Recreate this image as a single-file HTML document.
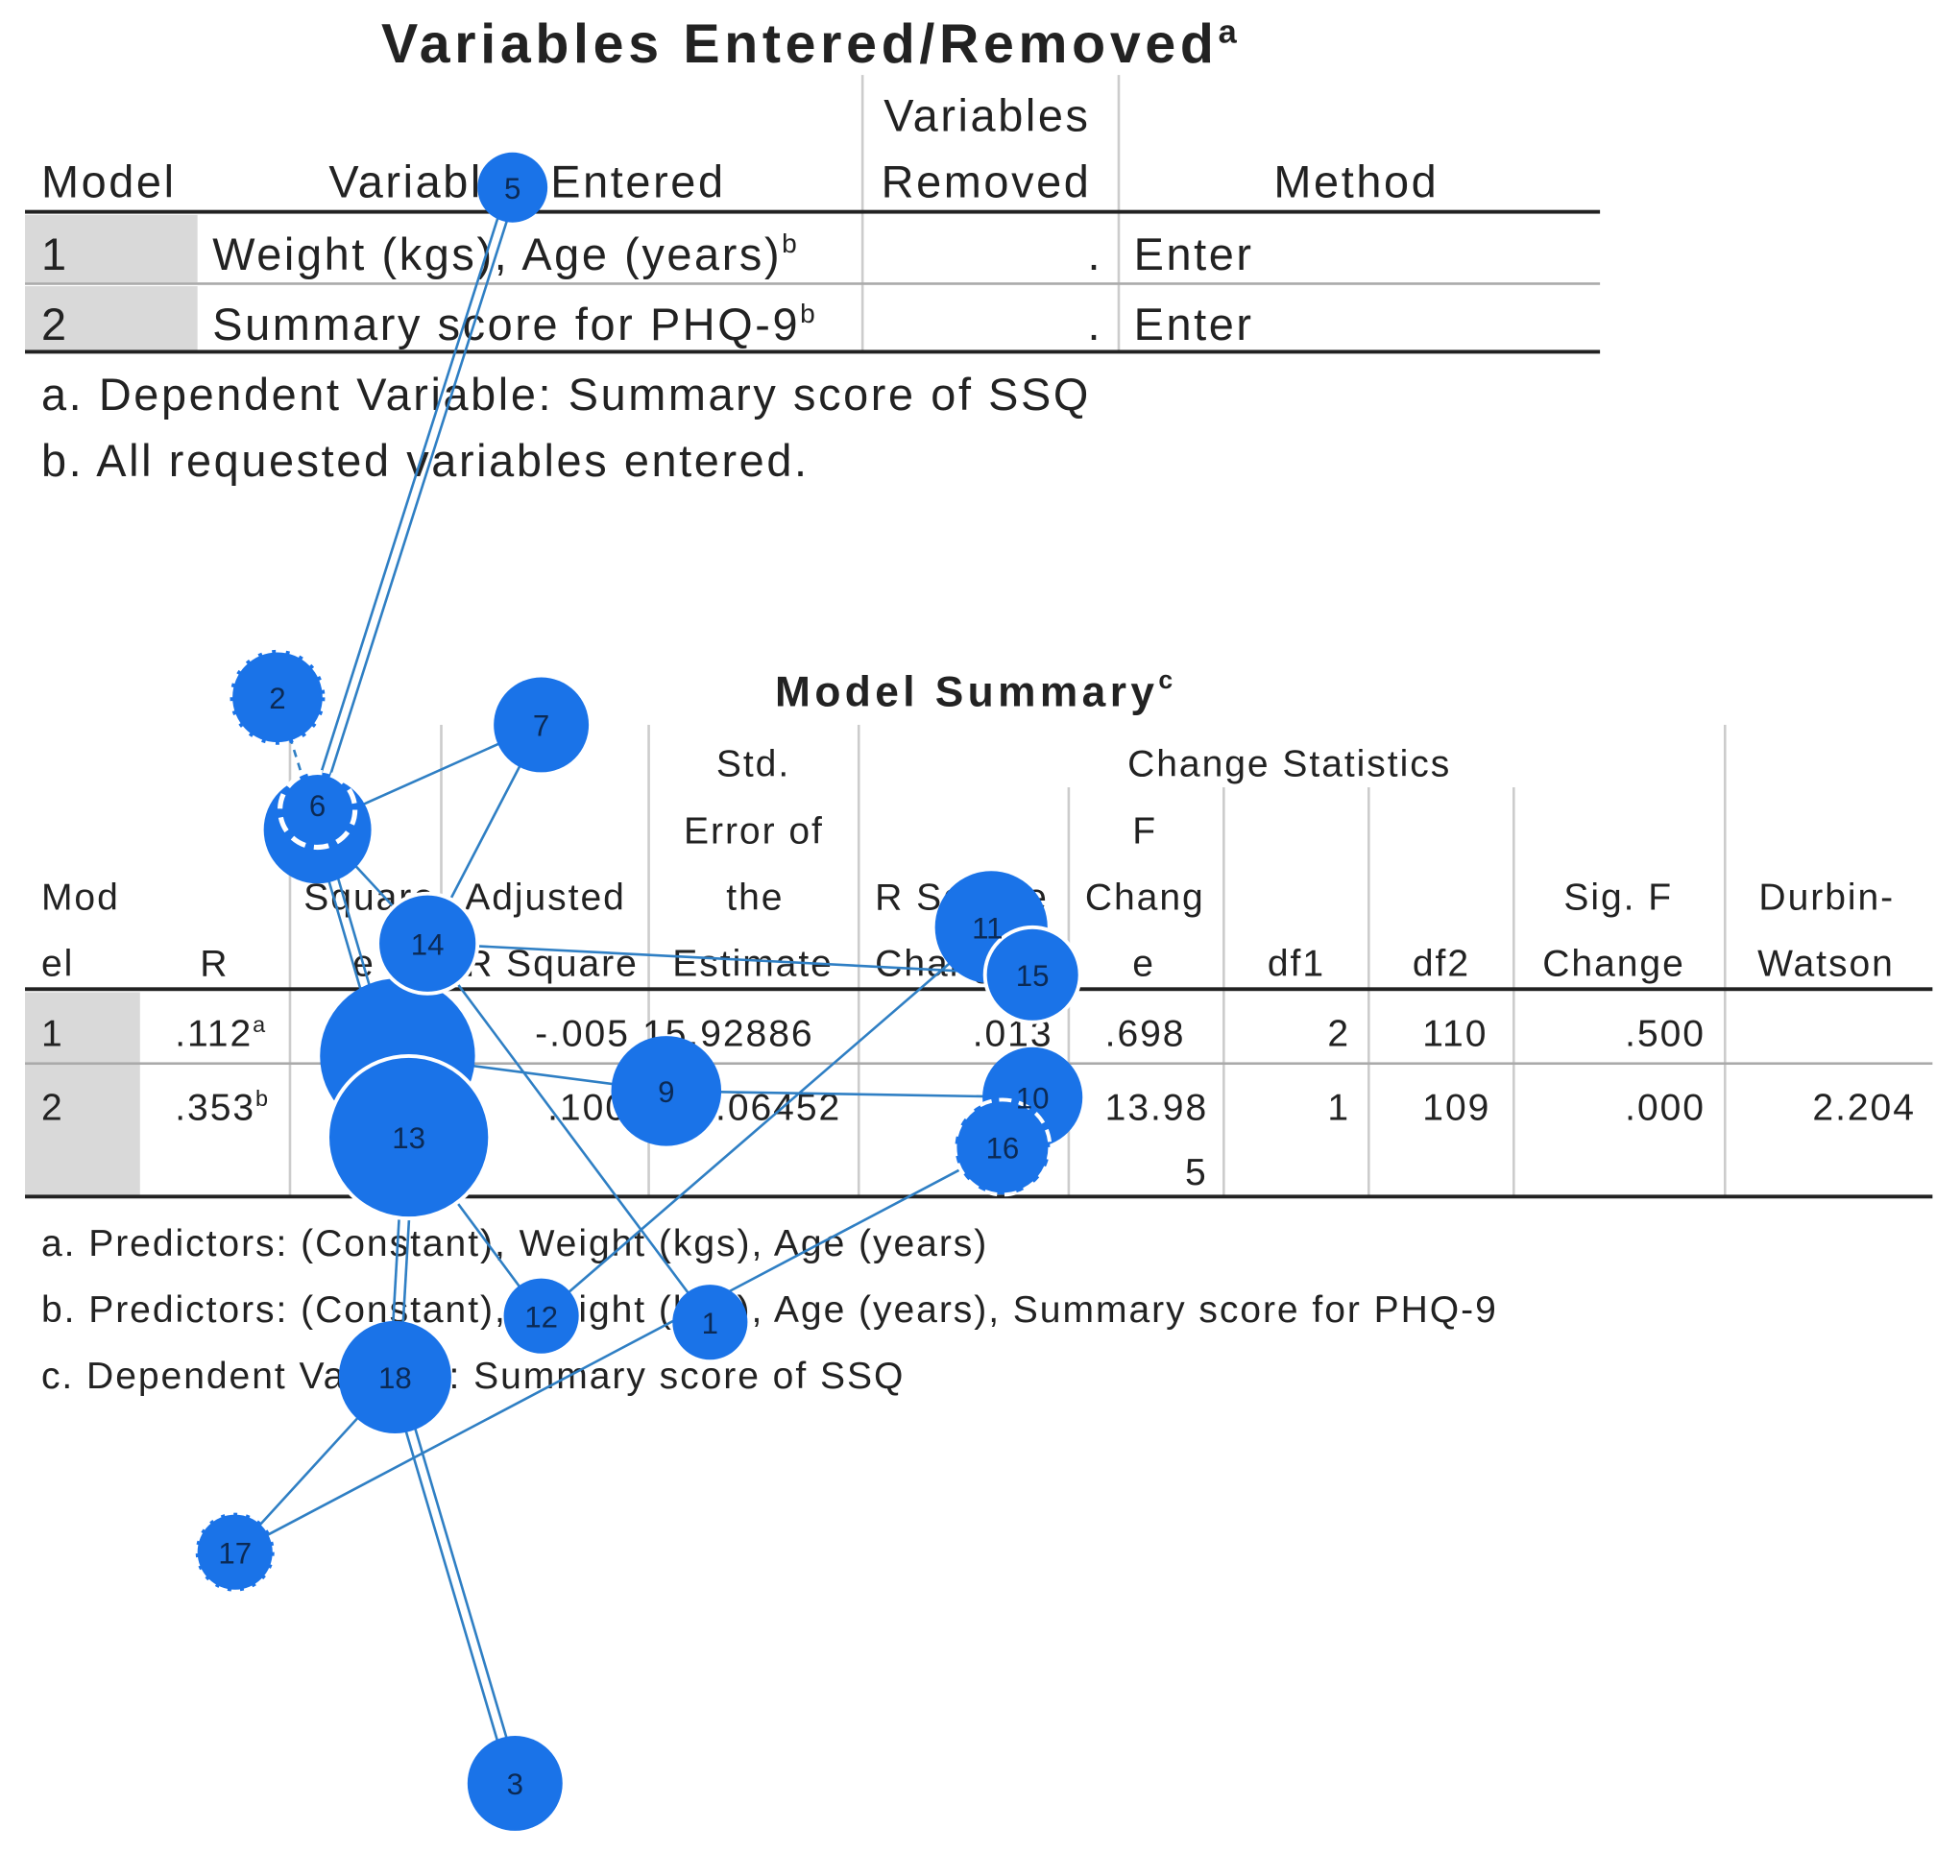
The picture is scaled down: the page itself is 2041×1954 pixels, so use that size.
<!DOCTYPE html>
<html><head><meta charset="utf-8"><style>
html,body{margin:0;padding:0;background:#fff;width:2041px;height:1954px;overflow:hidden}
#w{position:absolute;left:0;top:0;width:1568px;height:1501px;transform:scale(1.30166);transform-origin:0 0;font-family:"Liberation Sans",Arial,sans-serif;color:#222}
.t{position:absolute;white-space:nowrap;line-height:1}
.a{font-size:36px;letter-spacing:2px}
.b{font-size:30px;letter-spacing:1.5px}
.h{position:absolute;background:#222}
.g{position:absolute;background:#aaa}
.v{position:absolute;background:#ccc;width:2px}
.gc{position:absolute;background:#d9d9d9}
sup{font-size:60%;vertical-align:top;position:relative;top:-2px}
</style></head><body><div id="w">
<div class="t" style="left:305px;top:14px;font-size:44px;font-weight:bold;letter-spacing:3.6px">Variables Entered/Removed<sup>a</sup></div>
<div class="v" style="left:689px;top:60px;height:222px"></div>
<div class="v" style="left:894px;top:60px;height:222px"></div>
<div class="t a" style="left:707px;top:75px">Variables</div>
<div class="t a" style="left:33px;top:128px">Model</div>
<div class="t a" style="left:263px;top:128px">Variables Entered</div>
<div class="t a" style="left:705px;top:128px">Removed</div>
<div class="t a" style="left:1019px;top:128px">Method</div>
<div class="h" style="left:20px;top:168px;width:1260px;height:3px"></div>
<div class="gc" style="left:20px;top:172px;width:138px;height:54px"></div>
<div class="t a" style="left:33px;top:186px">1</div>
<div class="t a" style="left:170px;top:186px">Weight (kgs), Age (years)<sup>b</sup></div>
<div class="t a" style="left:870px;top:186px">.</div>
<div class="t a" style="left:907px;top:186px">Enter</div>
<div class="g" style="left:20px;top:226px;width:1260px;height:2px"></div>
<div class="gc" style="left:20px;top:229px;width:138px;height:51px"></div>
<div class="t a" style="left:33px;top:242px">2</div>
<div class="t a" style="left:170px;top:242px">Summary score for PHQ-9<sup>b</sup></div>
<div class="t a" style="left:870px;top:242px">.</div>
<div class="t a" style="left:907px;top:242px">Enter</div>
<div class="h" style="left:20px;top:280px;width:1260px;height:3px"></div>
<div class="t a" style="left:33px;top:298px">a. Dependent Variable: Summary score of SSQ</div>
<div class="t a" style="left:33px;top:351px">b. All requested variables entered.</div>
<div class="t" style="left:620px;top:537px;font-size:34px;font-weight:bold;letter-spacing:3.4px">Model Summary<sup>c</sup></div>
<div class="v" style="left:231px;top:580px;height:378px"></div>
<div class="v" style="left:352px;top:580px;height:378px"></div>
<div class="v" style="left:518px;top:580px;height:378px"></div>
<div class="v" style="left:686px;top:580px;height:378px"></div>
<div class="v" style="left:1379px;top:580px;height:378px"></div>
<div class="v" style="left:854px;top:630px;height:328px"></div>
<div class="v" style="left:978px;top:630px;height:328px"></div>
<div class="v" style="left:1094px;top:630px;height:328px"></div>
<div class="v" style="left:1210px;top:630px;height:328px"></div>
<div class="t b" style="left:573px;top:597px">Std.</div>
<div class="t b" style="left:902px;top:597px">Change Statistics</div>
<div class="t b" style="left:547px;top:651px">Error of</div>
<div class="t b" style="left:906px;top:651px">F</div>
<div class="t b" style="left:33px;top:704px">Mod</div>
<div class="t b" style="left:243px;top:704px">Square</div>
<div class="t b" style="left:372px;top:704px">Adjusted</div>
<div class="t b" style="left:581px;top:704px">the</div>
<div class="t b" style="left:700px;top:704px">R Square</div>
<div class="t b" style="left:868px;top:704px">Chang</div>
<div class="t b" style="left:1251px;top:704px">Sig. F</div>
<div class="t b" style="left:1407px;top:704px">Durbin-</div>
<div class="t b" style="left:33px;top:757px">el</div>
<div class="t b" style="left:160px;top:757px">R</div>
<div class="t b" style="left:282px;top:757px">e</div>
<div class="t b" style="left:372px;top:757px">R Square</div>
<div class="t b" style="left:538px;top:757px">Estimate</div>
<div class="t b" style="left:700px;top:757px">Change</div>
<div class="t b" style="left:906px;top:757px">e</div>
<div class="t b" style="left:1014px;top:757px">df1</div>
<div class="t b" style="left:1130px;top:757px">df2</div>
<div class="t b" style="left:1234px;top:757px">Change</div>
<div class="t b" style="left:1406px;top:757px">Watson</div>
<div class="h" style="left:20px;top:790px;width:1526px;height:3px"></div>
<div class="gc" style="left:20px;top:794px;width:92px;height:162px"></div>
<div class="t b" style="left:33px;top:813px">1</div>
<div class="t b" style="left:140px;top:813px">.112<sup>a</sup></div>
<div class="t b" style="left:428px;top:813px">-.005</div>
<div class="t b" style="left:514px;top:813px">15.92886</div>
<div class="t b" style="left:778px;top:813px">.013</div>
<div class="t b" style="left:884px;top:813px">.698</div>
<div class="t b" style="left:1062px;top:813px">2</div>
<div class="t b" style="left:1138px;top:813px">110</div>
<div class="t b" style="left:1300px;top:813px">.500</div>
<div class="g" style="left:20px;top:850px;width:1526px;height:2px"></div>
<div class="t b" style="left:33px;top:872px">2</div>
<div class="t b" style="left:140px;top:872px">.353<sup>b</sup></div>
<div class="t b" style="left:438px;top:872px">.100</div>
<div class="t b" style="left:536px;top:872px">15.06452</div>
<div class="t b" style="left:884px;top:872px">13.98</div>
<div class="t b" style="left:1062px;top:872px">1</div>
<div class="t b" style="left:1138px;top:872px">109</div>
<div class="t b" style="left:1300px;top:872px">.000</div>
<div class="t b" style="left:1450px;top:872px">2.204</div>
<div class="t b" style="left:948px;top:924px">5</div>
<div class="h" style="left:20px;top:956px;width:1526px;height:3px"></div>
<div class="t b" style="left:33px;top:981px">a. Predictors: (Constant), Weight (kgs), Age (years)</div>
<div class="t b" style="left:33px;top:1034px">b. Predictors: (Constant), Weight (kgs), Age (years), Summary score for PHQ-9</div>
<div class="t b" style="left:33px;top:1087px">c. Dependent Variable: Summary score of SSQ</div>
<svg style="position:absolute;left:0;top:0" width="1568" height="1501" font-family="Liberation Sans,Arial,sans-serif">
<g stroke="#2f7fc4" stroke-width="2" fill="none">
<line x1="406" y1="150" x2="250" y2="640"/><line x1="414" y1="150" x2="258" y2="640"/>
<line x1="254" y1="660" x2="433" y2="580"/>
<line x1="254" y1="660" x2="342" y2="755"/>
<line x1="433" y1="580" x2="342" y2="755"/>
<line x1="250" y1="660" x2="323" y2="910"/><line x1="258" y1="660" x2="331" y2="910"/>
<line x1="342" y1="755" x2="826" y2="780"/>
<line x1="342" y1="755" x2="568" y2="1058"/>
<line x1="318" y1="845" x2="533" y2="873"/>
<line x1="533" y1="873" x2="826" y2="878"/>
<line x1="433" y1="1053" x2="793" y2="742"/>
<line x1="327" y1="910" x2="433" y2="1053"/>
<line x1="323" y1="910" x2="312" y2="1102"/><line x1="331" y1="910" x2="320" y2="1102"/>
<line x1="312" y1="1102" x2="408" y2="1427"/><line x1="320" y1="1102" x2="416" y2="1427"/>
<line x1="316" y1="1102" x2="188" y2="1242"/>
<line x1="188" y1="1242" x2="802" y2="918"/>
<line x1="222" y1="558" x2="254" y2="660" stroke-dasharray="6 5"/>
</g>
<g fill="#1a73e8">
<circle cx="410" cy="150" r="28"/>
<circle cx="222" cy="558" r="36" stroke="#1a73e8" stroke-width="4" stroke-dasharray="3 8"/>
<circle cx="433" cy="580" r="38"/>
<circle cx="254" cy="664" r="43"/>
<circle cx="793" cy="742" r="45"/>
<circle cx="826" cy="780" r="38" stroke="#fff" stroke-width="3"/>
<circle cx="318" cy="845" r="62"/>
<circle cx="327" cy="910" r="65" stroke="#fff" stroke-width="3"/>
<circle cx="342" cy="755" r="40" stroke="#fff" stroke-width="3"/>
<circle cx="533" cy="873" r="44"/>
<circle cx="826" cy="878" r="40"/>
<circle cx="802" cy="918" r="38" stroke="#fff" stroke-width="3" stroke-dasharray="10 6"/>
<circle cx="433" cy="1053" r="30"/>
<circle cx="568" cy="1058" r="30"/>
<circle cx="316" cy="1102" r="45"/>
<circle cx="188" cy="1242" r="30" stroke="#1a73e8" stroke-width="3" stroke-dasharray="3 7"/>
<circle cx="412" cy="1427" r="38"/>
</g>
<circle cx="254" cy="648" r="30" fill="#1a73e8" stroke="#fff" stroke-width="4" stroke-dasharray="12 7"/>
<g fill="#0b2a55" font-size="24" text-anchor="middle">
<text x="410" y="159">5</text><text x="222" y="567">2</text><text x="433" y="589">7</text>
<text x="254" y="653">6</text><text x="342" y="764">14</text><text x="790" y="751">11</text>
<text x="826" y="789">15</text><text x="327" y="919">13</text><text x="533" y="882">9</text>
<text x="826" y="887">10</text><text x="802" y="927">16</text><text x="433" y="1062">12</text>
<text x="568" y="1067">1</text><text x="316" y="1111">18</text><text x="188" y="1251">17</text>
<text x="412" y="1436">3</text>
</g>
</svg>
</div></body></html>
